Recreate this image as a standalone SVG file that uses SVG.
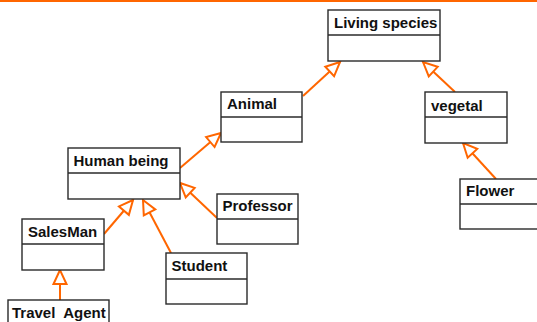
<svg xmlns="http://www.w3.org/2000/svg" width="537" height="322" viewBox="0 0 537 322">
<style>
.box{fill:#fff;stroke:#2a2a2a;stroke-width:1.4}
.div{stroke:#2a2a2a;stroke-width:1.4}
.lbl{font-family:"Liberation Sans",Arial,sans-serif;font-weight:bold;font-size:15px;fill:#111;white-space:pre}
.conn{stroke:#FF6600;stroke-width:2;fill:none;marker-end:url(#tri)}
</style>
<defs>
<marker id="tri" markerUnits="userSpaceOnUse" markerWidth="16" markerHeight="16" refX="14" refY="7" orient="auto" overflow="visible">
<path d="M14,7 L0,0.5 L0,13.5 Z" fill="#fff" stroke="#FF6600" stroke-width="2"/>
</marker>
</defs>
<rect x="0" y="0" width="537" height="2" fill="#FF6600"/>
<g id="connectors">
<line class="conn" x1="303" y1="96" x2="340" y2="62"/>
<line class="conn" x1="455" y1="92" x2="423" y2="62"/>
<line class="conn" x1="180" y1="168" x2="221" y2="133"/>
<line class="conn" x1="217" y1="218" x2="180" y2="183"/>
<line class="conn" x1="104" y1="234" x2="133" y2="200"/>
<line class="conn" x1="171" y1="253" x2="143" y2="200"/>
<line class="conn" x1="496" y1="179" x2="463" y2="143"/>
<line class="conn" x1="60" y1="300" x2="60" y2="270"/>
</g>
<g id="living-species">
<rect class="box" x="328" y="10" width="112" height="51"/>
<line class="div" x1="328" y1="35" x2="440" y2="35"/>
<text class="lbl" x="334" y="28">Living species</text>
</g>
<g id="animal">
<rect class="box" x="221" y="92" width="81" height="50"/>
<line class="div" x1="221" y1="117" x2="302" y2="117"/>
<text class="lbl" x="227" y="109">Animal</text>
</g>
<g id="vegetal">
<rect class="box" x="425" y="92" width="82" height="51"/>
<line class="div" x1="425" y1="117" x2="507" y2="117"/>
<text class="lbl" x="431" y="110.5">vegetal</text>
</g>
<g id="human-being">
<rect class="box" x="68" y="148" width="112" height="51"/>
<line class="div" x1="68" y1="173" x2="180" y2="173"/>
<text class="lbl" x="73.5" y="166">Human being</text>
</g>
<g id="flower">
<rect class="box" x="460" y="179" width="82" height="50"/>
<line class="div" x1="460" y1="204" x2="542" y2="204"/>
<text class="lbl" x="466" y="195.5">Flower</text>
</g>
<g id="professor">
<rect class="box" x="217" y="194" width="81" height="50"/>
<line class="div" x1="217" y1="219" x2="298" y2="219"/>
<text class="lbl" x="222.5" y="210.5">Professor</text>
</g>
<g id="salesman">
<rect class="box" x="22" y="219" width="82" height="51"/>
<line class="div" x1="22" y1="244" x2="104" y2="244"/>
<text class="lbl" x="28" y="236.5">SalesMan</text>
</g>
<g id="student">
<rect class="box" x="166" y="253" width="81" height="51"/>
<line class="div" x1="166" y1="279" x2="247" y2="279"/>
<text class="lbl" x="171.5" y="270.5">Student</text>
</g>
<g id="travel-agent">
<rect class="box" x="8" y="300" width="101" height="40"/>
<text class="lbl" x="12" y="318">Travel  Agent</text>
</g>
</svg>
